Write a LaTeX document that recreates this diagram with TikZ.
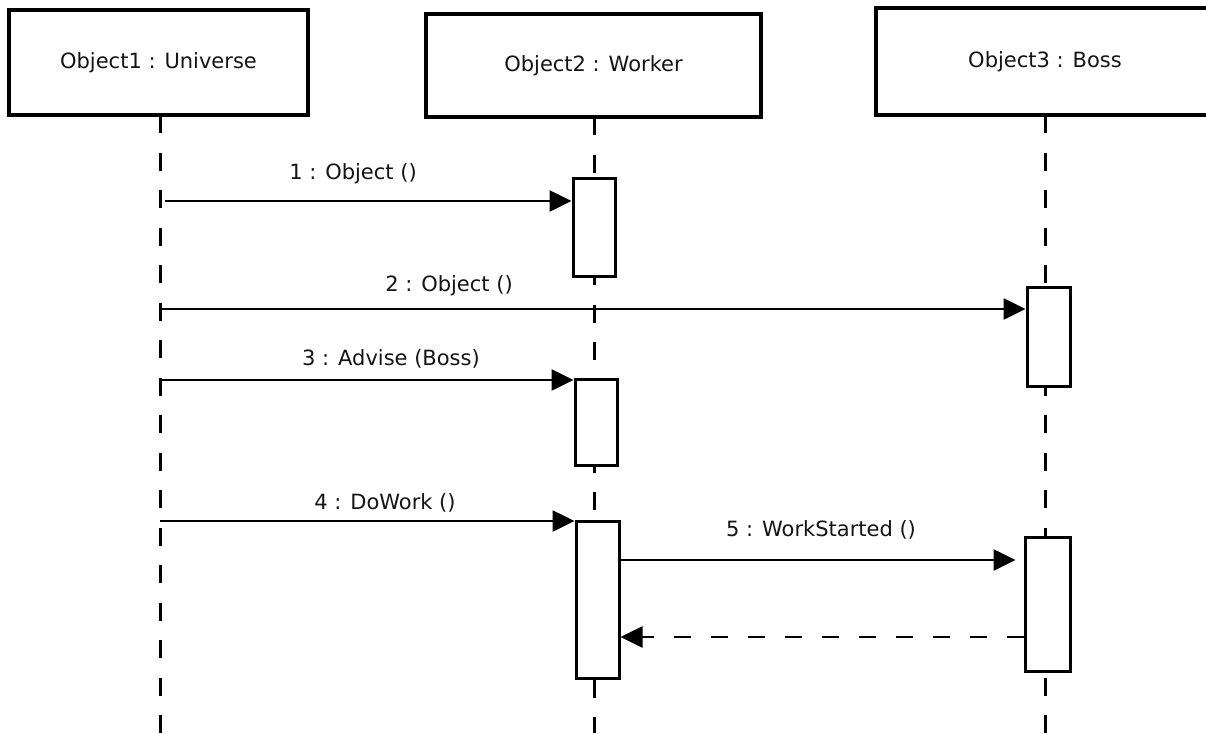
\documentclass[tikz,border=0pt]{standalone}
\usepackage{fontspec}
\setmainfont{DejaVu Sans}
\usetikzlibrary{arrows.meta,calc}
\begin{document}
\begin{tikzpicture}[x=1pt,y=-1pt,
  txt/.style={font=\fontsize{21}{24}\selectfont,text=black!92},
  head/.style={txt,draw,line width=3.4pt,fill=white,inner sep=0pt},
  actbox/.style={draw,line width=3pt,fill=white,inner sep=0pt},
  life/.style={line width=3pt,dash pattern=on 18pt off 19.5pt},
  msg/.style={line width=2.6pt,-{Triangle[length=22pt,width=21pt]}},
  reply/.style={msg,dash pattern=on 17pt off 20pt},
  lbl/.style={txt,inner sep=0pt}
]
\useasboundingbox[fill=white] (0,0) rectangle (1206,733);

% object heads
\node[head,minimum width=299pt,minimum height=105pt] (o1) at (158.5,62.5) {Object1 : Universe};
\node[head,minimum width=335pt,minimum height=103pt] (o2) at (593.5,65.5) {Object2 : Worker};
\node[head,minimum width=338pt,minimum height=107pt] (o3) at (1045,61.5) {Object3 : Boss};

% lifelines
\coordinate (l1) at (160,115);
\coordinate (l2) at (594,117);
\coordinate (l3) at (1045,115);
\draw[life] (l1) -- (l1 |- 0,733);
\draw[life] (l2) -- (l2 |- 0,733);
\draw[life] (l3) -- (l3 |- 0,733);

% activation bars
\node[actbox,minimum width=42pt,minimum height=98pt]  (a1) at (594,227) {};
\node[actbox,minimum width=43pt,minimum height=99pt]  (a2) at (1048.5,336.5) {};
\node[actbox,minimum width=42pt,minimum height=86pt]  (a3) at (596,422) {};
\node[actbox,minimum width=43pt,minimum height=157pt] (a4) at (597.5,599.5) {};
\node[actbox,minimum width=45pt,minimum height=134pt] (a5) at (1047.5,604) {};

% message start points
\coordinate (s1) at (165,201);
\coordinate (s2) at (160,309);
\coordinate (s3) at (160,380);
\coordinate (s4) at (160,521);
\coordinate (s5) at (a4.east |- 0,560);
\coordinate (s6) at (a5.west |- 0,637);

\draw[msg] (s1) -- (s1 -| a1.west);
\draw[msg] (s2) -- (s2 -| a2.west);
\draw[msg] (s3) -- (s3 -| a3.west);
\draw[msg] (s4) -- (s4 -| a4.west);
\draw[msg,shorten >=8pt] (s5) -- (s5 -| a5.west);
\draw[reply] (s6) -- (s6 -| a4.east);

% message labels
\node[lbl] (t1) at (353,174) {1 : Object ()};
\node[lbl] (t2) at (449,286) {2 : Object ()};
\node[lbl] (t3) at (391,359) {3 : Advise (Boss)};
\node[lbl] (t4) at (385,503) {4 : DoWork ()};
\node[lbl] (t5) at (821,530) {5 : WorkStarted ()};
\end{tikzpicture}
\end{document}
